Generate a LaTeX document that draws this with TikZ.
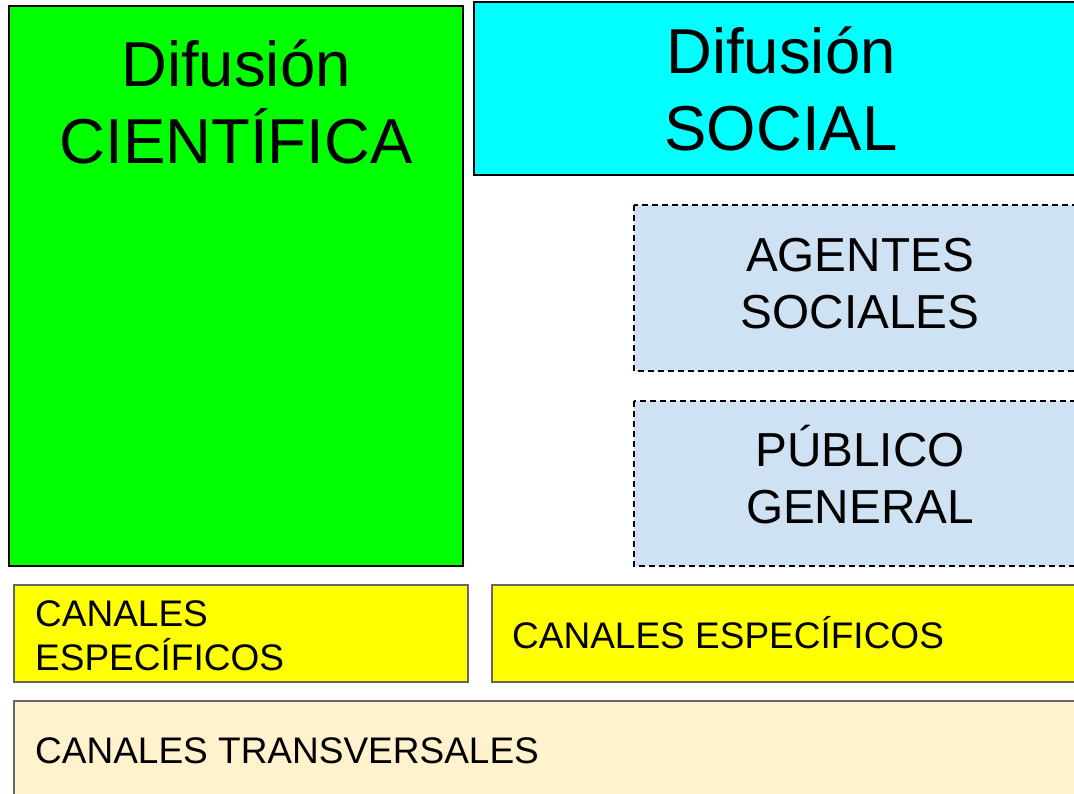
\documentclass[tikz,border=0pt]{standalone}
\usepackage{fontspec}
\setmainfont{Liberation Sans}

\definecolor{cientgreen}{HTML}{00FF00}
\definecolor{socialcyan}{HTML}{00FFFF}
\definecolor{agentblue}{HTML}{CFE2F3}
\definecolor{canalyellow}{HTML}{FFFF00}
\definecolor{transcream}{HTML}{FFF2CC}
\definecolor{canalgray}{HTML}{666666}

\tikzset{
  mainbox/.style={draw=black, line width=1.6pt},
  groupbox/.style={draw=black, line width=1.4pt, dash pattern=on 6pt off 4pt, fill=agentblue},
  canalbox/.style={draw=canalgray, line width=1.6pt},
  bigtext/.style={align=center, inner sep=0pt, font=\fontsize{63.5}{77}\selectfont},
  midtext/.style={align=center, inner sep=0pt, font=\fontsize{47.7}{57}\selectfont},
  smalltext/.style={align=left, inner sep=0pt, font=\fontsize{37}{44}\selectfont}
}

\begin{document}
\begin{tikzpicture}[x=1pt, y=-1pt, anchor=base]
    \path[use as bounding box, clip] (0,0) rectangle (1074,793);

    % difusion cientifica
    \draw[mainbox, fill=cientgreen] (9,6) rectangle (463,566);
    \node[bigtext] (cient) at (236,163) {Difusión\\CIENTÍFICA};

    % difusion social
    \draw[mainbox, fill=socialcyan] (474,2) rectangle (1090,175);
    \node[bigtext] (social) at (781,150) {Difusión\\SOCIAL};

    \begin{scope}
      \draw[groupbox] (634,205) rectangle (1090,371);
      \node[midtext] (agentes) at (860,328) {AGENTES\\SOCIALES};

      \draw[groupbox] (634,401) rectangle (1090,566);
      \node[midtext] (publico) at (860,523) {PÚBLICO\\GENERAL};
    \end{scope}

    % canales
    \draw[canalbox, fill=canalyellow] (14,585) rectangle (468,682);
    \node[smalltext, anchor=base west] (canal_cient) at (35,670) {CANALES\\ESPECÍFICOS};

    \draw[canalbox, fill=canalyellow] (492,585) rectangle (1090,682);
    \node[smalltext, anchor=base west] (canal_social) at (512,648) {CANALES ESPECÍFICOS};

    \draw[canalbox, fill=transcream] (14,701) rectangle (1090,810);
    \node[smalltext, anchor=base west] (canal_trans) at (35,763) {CANALES TRANSVERSALES};

\end{tikzpicture}
\end{document}
